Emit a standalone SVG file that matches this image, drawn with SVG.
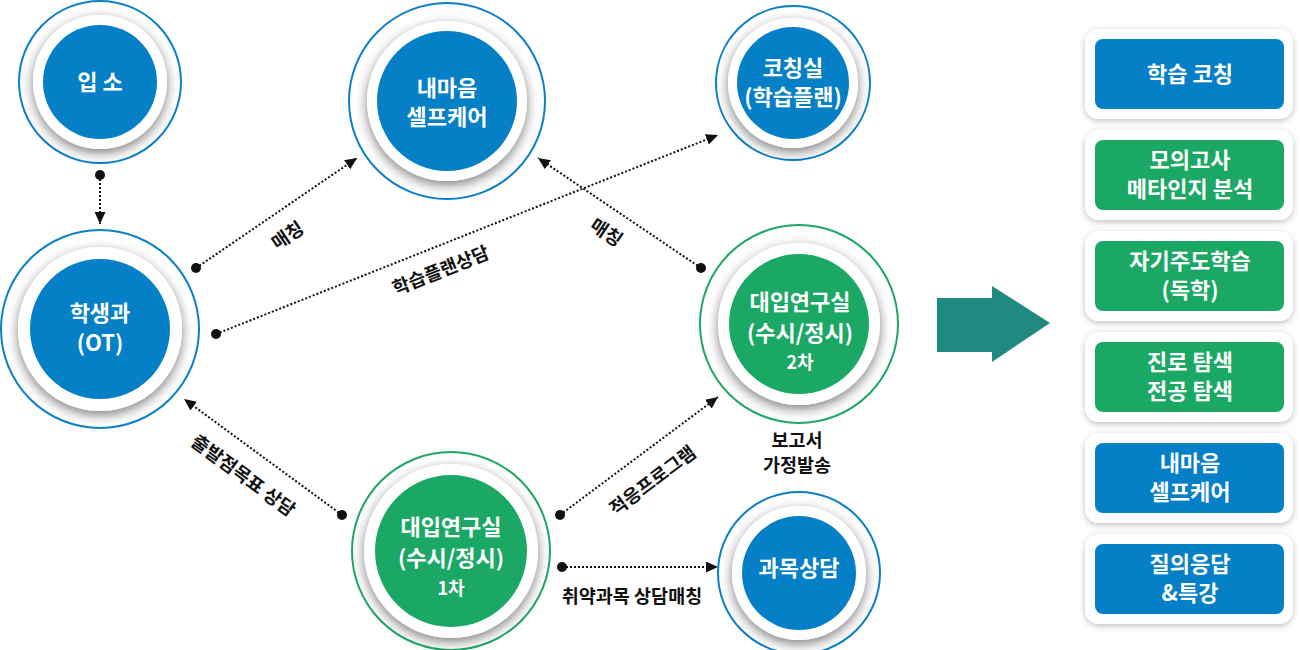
<svg xmlns="http://www.w3.org/2000/svg" width="1300" height="650" viewBox="0 0 1300 650">
<style>
.ring{fill:#fff;stroke-width:2}
.rb{stroke:#0a80c6}
.rg{stroke:#1da765}
.wd{fill:#fff;filter:url(#sh)}
.ib{fill:#0580c6}
.ig{fill:#1ba865}
.nt{font-family:"Noto Sans CJK KR","Noto Sans",sans-serif;font-weight:700;font-size:22px;fill:#fff;text-anchor:middle}
.ns{font-size:18px}
.lb{font-family:"Noto Sans CJK KR","Noto Sans",sans-serif;font-weight:700;font-size:18.5px;fill:#111;text-anchor:middle}
.con{stroke:#111;stroke-width:2;stroke-dasharray:2 2;fill:none;marker-end:url(#ah)}
.dot{fill:#111}
.bo{fill:#fff;filter:url(#sh2)}
.bt{font-family:"Noto Sans CJK KR","Noto Sans",sans-serif;font-weight:700;font-size:22px;fill:#fff;text-anchor:middle}
</style>
<defs>
<filter id="sh" x="-30%" y="-30%" width="160%" height="160%">
<feDropShadow dx="0" dy="4" stdDeviation="6" flood-color="#000" flood-opacity="0.5"/>
</filter>
<filter id="sh2" x="-20%" y="-30%" width="140%" height="160%">
<feDropShadow dx="0" dy="2" stdDeviation="3" flood-color="#000" flood-opacity="0.25"/>
</filter>
<marker id="ah" markerUnits="userSpaceOnUse" markerWidth="13" markerHeight="11" refX="12" refY="5.5" orient="auto">
<path d="M0,0 L12,5.5 L0,11 z" fill="#111"/>
</marker>
</defs>
<rect width="1300" height="650" fill="#fff"/>

<g id="connectors">
<line class="con" x1="100" y1="175" x2="100" y2="224"/>
<circle class="dot" cx="100" cy="175" r="5"/>
<line class="con" x1="196" y1="268" x2="357" y2="158"/>
<circle class="dot" cx="196" cy="268" r="5"/>
<line class="con" x1="216" y1="334" x2="718" y2="135"/>
<circle class="dot" cx="216" cy="334" r="5"/>
<line class="con" x1="701" y1="268" x2="538" y2="158"/>
<circle class="dot" cx="701" cy="268" r="5"/>
<line class="con" x1="342" y1="515" x2="184" y2="399"/>
<circle class="dot" cx="342" cy="515" r="5"/>
<line class="con" x1="560" y1="515" x2="718" y2="397"/>
<circle class="dot" cx="560" cy="515" r="5"/>
<line class="con" x1="562" y1="567" x2="718" y2="567"/>
<circle class="dot" cx="562" cy="567" r="5"/>
<g transform="translate(288,236) rotate(-34)"><text class="lb" x="0" y="6">매칭</text></g>
<g transform="translate(441,271) rotate(-21.6)"><text class="lb" x="0" y="6">학습플랜상담</text></g>
<g transform="translate(606,233) rotate(34)"><text class="lb" x="0" y="6">매칭</text></g>
<g transform="translate(243,476) rotate(36.3)"><text class="lb" x="0" y="6">출발점목표 상담</text></g>
<g transform="translate(653,481) rotate(-36.8)"><text class="lb" x="0" y="6">적응프로그램</text></g>
<text class="lb" x="632" y="603">취약과목 상담매칭</text>
<text class="lb" x="797" y="447">보고서</text>
<text class="lb" x="797" y="472">가정발송</text>
</g>

<g id="n-ipso">
<circle class="ring rb" cx="100" cy="82" r="81"/>
<circle class="wd" cx="100" cy="82" r="67"/>
<circle class="ib" cx="100" cy="82" r="57"/>
<text class="nt" x="100" y="90">입 소</text>
</g>

<g id="n-student">
<circle class="ring rb" cx="100" cy="329" r="99"/>
<circle class="wd" cx="100" cy="329" r="82"/>
<circle class="ib" cx="100" cy="329" r="70"/>
<text class="nt" x="100" y="321">학생과</text>
<text class="nt" x="100" y="351">(OT)</text>
</g>

<g id="n-mind">
<circle class="ring rb" cx="447" cy="101" r="98"/>
<circle class="wd" cx="447" cy="101" r="80"/>
<circle class="ib" cx="447" cy="101" r="70"/>
<text class="nt" x="447" y="96">내마음</text>
<text class="nt" x="447" y="125">셀프케어</text>
</g>

<g id="n-coach">
<circle class="ring rb" cx="793" cy="83" r="77"/>
<circle class="wd" cx="793" cy="83" r="65"/>
<circle class="ib" cx="793" cy="83" r="56"/>
<text class="nt" x="793" y="76">코칭실</text>
<text class="nt" x="793" y="105">(학습플랜)</text>
</g>

<g id="n-lab2">
<circle class="ring rg" cx="799" cy="324" r="99"/>
<circle class="wd" cx="799" cy="324" r="81"/>
<circle class="ig" cx="799" cy="324" r="70"/>
<text class="nt" x="800" y="310">대입연구실</text>
<text class="nt" x="800" y="341">(수시/정시)</text>
<text class="nt ns" x="800" y="369">2차</text>
</g>

<g id="n-lab1">
<circle class="ring rg" cx="451" cy="551" r="99"/>
<circle class="wd" cx="451" cy="551" r="87"/>
<circle class="ig" cx="451" cy="551" r="76"/>
<text class="nt" x="451" y="535">대입연구실</text>
<text class="nt" x="451" y="566">(수시/정시)</text>
<text class="nt ns" x="451" y="595">1차</text>
</g>

<g id="n-subject">
<circle class="ring rb" cx="799" cy="573" r="81"/>
<circle class="wd" cx="799" cy="573" r="67"/>
<circle class="ib" cx="799" cy="573" r="57"/>
<text class="nt" x="799" y="576">과목상담</text>
</g>

<g id="big-arrow">
<polygon points="937,298 992,298 992,286 1050,323 992,362 992,352 937,352" fill="#218a80"/>
</g>

<g id="b1">
<rect class="bo" x="1085" y="29" width="208" height="90" rx="14"/>
<rect class="ib" x="1095" y="39" width="189" height="70" rx="8"/>
<text class="bt" x="1190" y="82">학습 코칭</text>
</g>
<g id="b2">
<rect class="bo" x="1085" y="130" width="208" height="90" rx="14"/>
<rect class="ig" x="1095" y="140" width="189" height="70" rx="8"/>
<text class="bt" x="1190" y="168">모의고사</text>
<text class="bt" x="1190" y="197">메타인지 분석</text>
</g>
<g id="b3">
<rect class="bo" x="1085" y="231" width="208" height="90" rx="14"/>
<rect class="ig" x="1095" y="241" width="189" height="70" rx="8"/>
<text class="bt" x="1190" y="269">자기주도학습</text>
<text class="bt" x="1190" y="298">(독학)</text>
</g>
<g id="b4">
<rect class="bo" x="1085" y="332" width="208" height="90" rx="14"/>
<rect class="ig" x="1095" y="342" width="189" height="70" rx="8"/>
<text class="bt" x="1190" y="370">진로 탐색</text>
<text class="bt" x="1190" y="399">전공 탐색</text>
</g>
<g id="b5">
<rect class="bo" x="1085" y="433" width="208" height="90" rx="14"/>
<rect class="ib" x="1095" y="443" width="189" height="70" rx="8"/>
<text class="bt" x="1190" y="471">내마음</text>
<text class="bt" x="1190" y="500">셀프케어</text>
</g>
<g id="b6">
<rect class="bo" x="1085" y="534" width="208" height="90" rx="14"/>
<rect class="ib" x="1095" y="544" width="189" height="70" rx="8"/>
<text class="bt" x="1190" y="572">질의응답</text>
<text class="bt" x="1190" y="601">&amp;특강</text>
</g>
</svg>
